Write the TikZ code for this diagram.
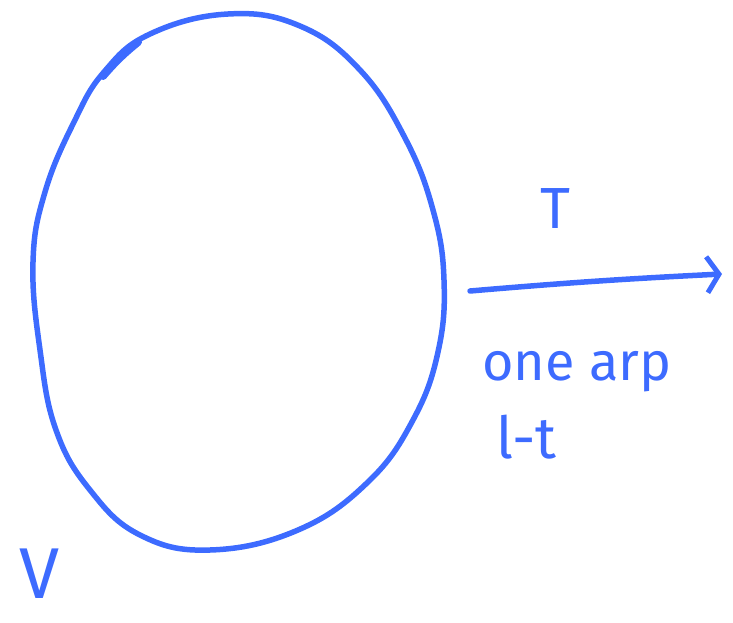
\documentclass[tikz,border=0pt]{standalone}
\usepackage{fontspec}
\setmainfont{Fira Sans}
\usetikzlibrary{arrows.meta}
\definecolor{pen}{RGB}{61,107,255}
\tikzset{
  ink/.style={draw=pen, line width=5.5pt, line cap=round, line join=round},
  hand/.style={text=pen, inner sep=0pt},
}
\begin{document}
\begin{tikzpicture}[x=1pt,y=-1pt]
\useasboundingbox (0,0) rectangle (733,623);
% set blob
\draw[ink] plot[smooth cycle, tension=0.7] coordinates {
 (228,14) (300,26) (360,70) (405,138) (433,210) (444,280) (438,352)
 (413,420) (368,482) (298,530) (210,550) (140,535) (90,490) (56,430)
 (40,350) (33,262) (45,192) (74,122) (104,72) (150,34)};
% thick stroke at top left
\draw[pen, line width=8pt, line cap=round] (103,76) to[bend left=5] (138,42);
% arrow
\coordinate (src) at (470,291);
\coordinate (dst) at (722,274);
\draw[ink, -{Straight Barb[length=12pt,width=36pt,line width=5pt]}] (src) to[bend left=1] (dst);
% labels
\node[hand, font=\fontsize{58}{58}\selectfont, anchor=base] (T) at (555,228) {T};
\node[hand, font=\fontsize{54}{54}\selectfont, anchor=base west] (one) at (482,380) {one arp};
\node[hand, font=\fontsize{58}{58}\selectfont, anchor=base west] (lt) at (496,458) {l-t};
\node[hand, font=\fontsize{72}{72}\selectfont, anchor=base] (V) at (40,598) {V};
\end{tikzpicture}
\end{document}
